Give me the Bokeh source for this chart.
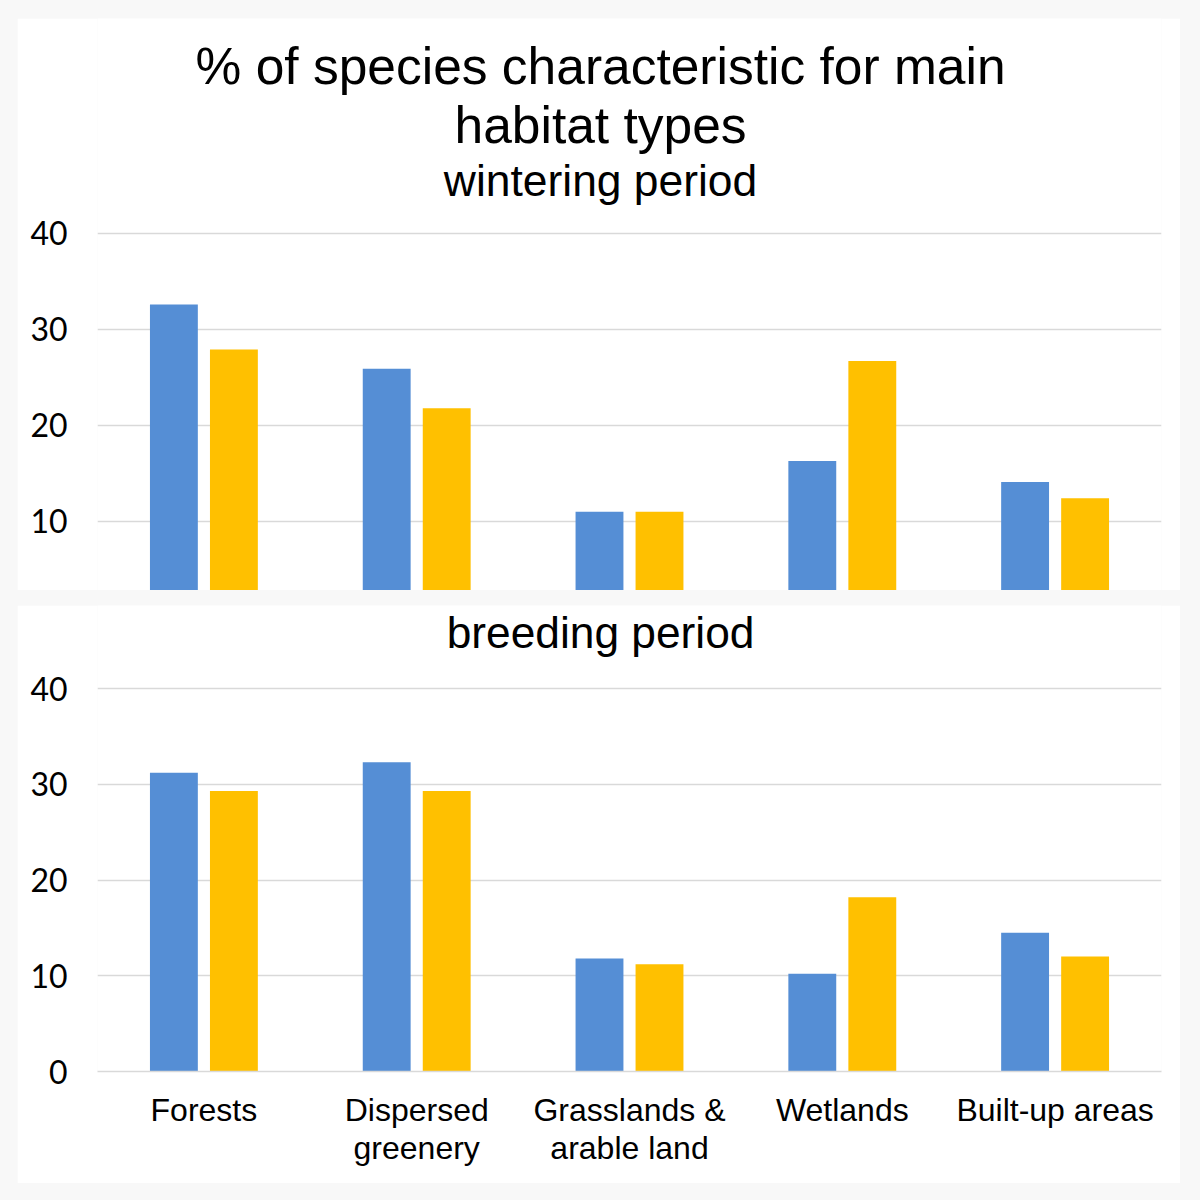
from bokeh.plotting import figure
from bokeh.layouts import column
from bokeh.models import ColumnDataSource, Label, FixedTicker
from bokeh.transform import dodge
from bokeh.embed import file_html
from bokeh.resources import INLINE

categories = ["Forests", "Dispersed\ngreenery", "Grasslands &\narable land", "Wetlands", "Built-up areas"]
winter_blue = [32.6, 25.9, 11.0, 16.3, 14.1]
winter_yellow = [27.9, 21.8, 11.0, 26.7, 12.4]
breed_blue = [31.2, 32.3, 11.8, 10.2, 14.5]
breed_yellow = [29.3, 29.3, 11.2, 18.2, 12.0]
y_ticks = [0, 10, 20, 30, 40]

BLUE = "#558ED5"
YELLOW = "#FFC000"
GRID = "#D9D9D9"


def make_fig(height, y_start, y_end, blue, yellow, bottom):
    p = figure(x_range=categories, y_range=(y_start, y_end), width=1163, height=height,
               output_backend="svg", toolbar_location=None,
               min_border_left=80, min_border_right=19,
               min_border_top=0, min_border_bottom=bottom)
    src = ColumnDataSource(dict(cat=categories, blue=blue, yellow=yellow))
    p.vbar(x=dodge("cat", -0.141, range=p.x_range), top="blue", bottom=y_start, width=0.225,
           source=src, color=BLUE, line_color=None)
    p.vbar(x=dodge("cat", 0.141, range=p.x_range), top="yellow", bottom=y_start, width=0.225,
           source=src, color=YELLOW, line_color=None)
    p.outline_line_color = None
    p.background_fill_color = "white"
    p.border_fill_color = "white"
    p.xgrid.grid_line_color = None
    p.ygrid.grid_line_color = GRID
    p.ygrid.grid_line_width = 1.5
    p.yaxis.ticker = FixedTicker(ticks=y_ticks)
    p.yaxis.axis_line_color = None
    p.yaxis.major_tick_line_color = None
    p.yaxis.minor_tick_line_color = None
    p.yaxis.major_label_standoff = 24
    p.yaxis.major_label_text_font = "Lato"
    p.yaxis.major_label_text_font_size = "32px"
    p.yaxis.major_label_text_color = "#000000"
    p.x_range.range_padding = 0
    return p


def title_label(p, txt, y, size):
    p.add_layout(Label(x=2.364, y=y, text=txt, text_align="center", text_baseline="alphabetic",
                       text_font="Liberation Sans", text_font_size=size, text_color="#000000"))


top = make_fig(572, 2.8, 62.4, winter_blue, winter_yellow, 0)
top.xaxis.visible = False
title_label(top, "% of species characteristic for main", 57.4, "51.5px")
title_label(top, "habitat types", 51.3, "51.5px")
title_label(top, "wintering period", 45.5, "44.4px")

bot = make_fig(578, 0, 48.67, breed_blue, breed_yellow, 112)
bot.xaxis.axis_line_color = GRID
bot.xaxis.axis_line_width = 1.5
bot.xaxis.major_tick_line_color = None
bot.xaxis.minor_tick_line_color = None
bot.xaxis.major_label_standoff = 14
bot.xaxis.major_label_text_font = "Liberation Sans"
bot.xaxis.major_label_text_font_size = "32px"
bot.xaxis.major_label_text_line_height = 1.06
bot.xaxis.major_label_text_color = "#000000"
title_label(bot, "breeding period", 45.85, "44.3px")

layout = column(top, bot, spacing=15,
                styles={"background-color": "#F8F8F8", "padding": "18px 20px 17px 17px"})

open("out.html", "w").write(file_html(layout, INLINE))
